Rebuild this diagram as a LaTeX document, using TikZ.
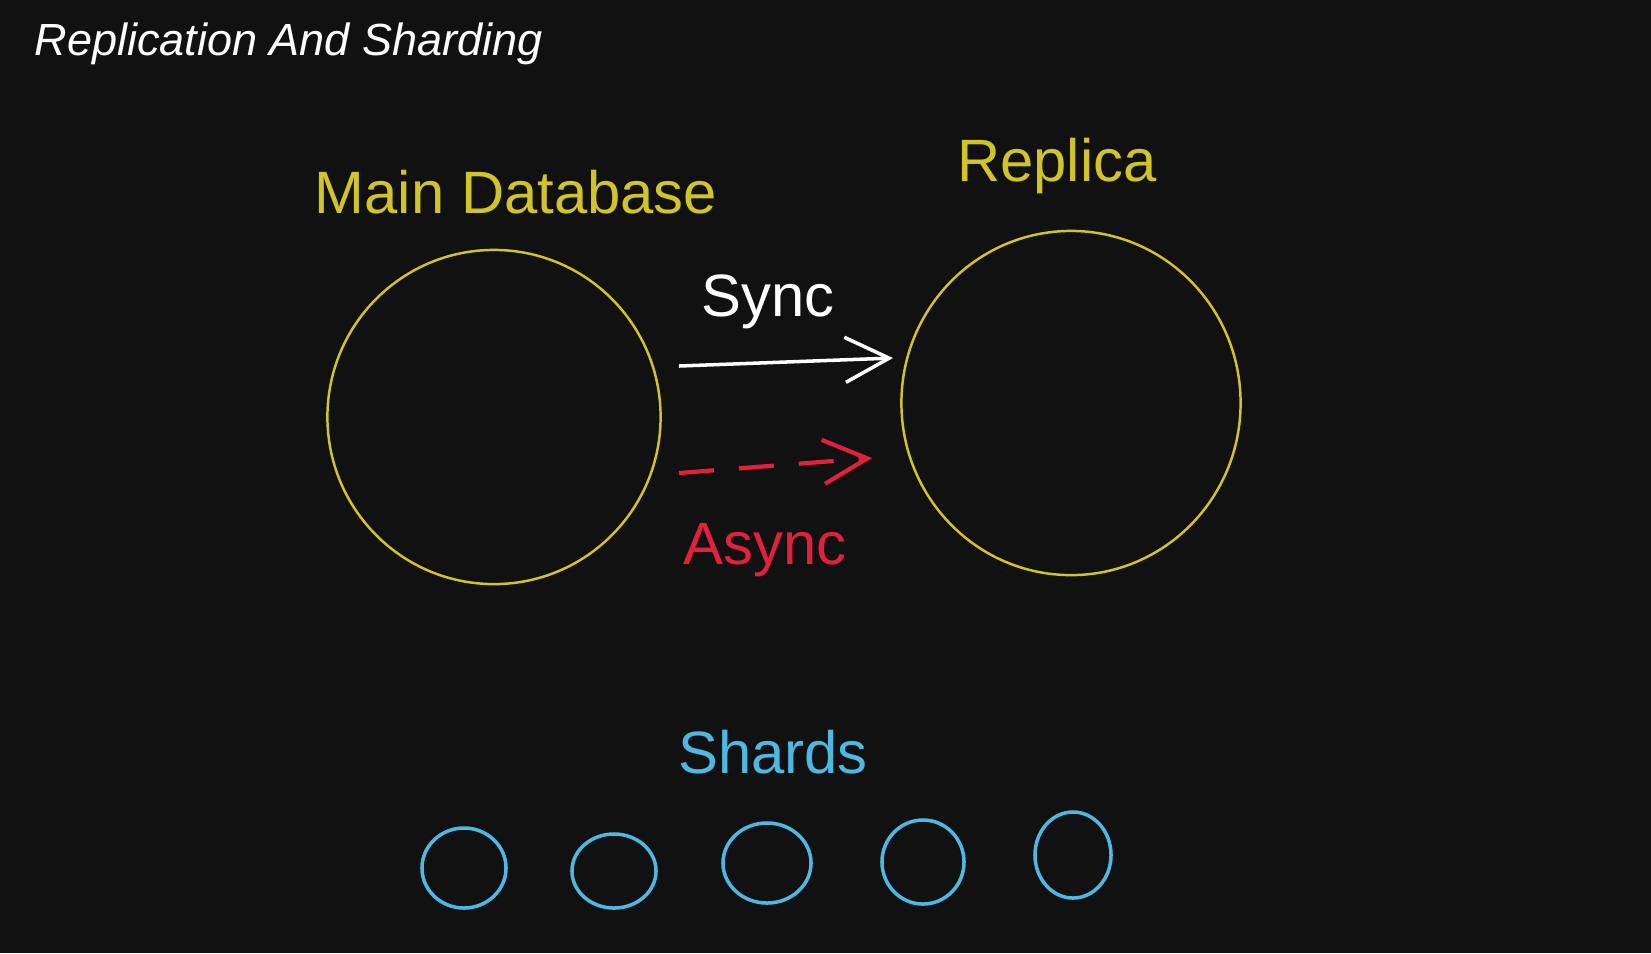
\documentclass[tikz,border=0pt]{standalone}
\usepackage{fontspec}
\setmainfont{Liberation Sans}
\definecolor{bgdark}{RGB}{17,17,17}
\definecolor{hyellow}{RGB}{208,196,42}
\definecolor{hblue}{RGB}{78,184,226}
\definecolor{hred}{RGB}{226,32,62}
\usetikzlibrary{arrows.meta,positioning,shapes.geometric}

\begin{document}
\begin{tikzpicture}[
  x=0.01cm, y=-0.01cm,
  every node/.style={inner sep=0pt},
  hand/.style={font=\fontsize{17}{20}\selectfont},
  bigdb/.style={ellipse,draw=hyellow,line width=0.7pt,
                minimum width=3.33cm,minimum height=3.34cm},
  shard/.style={ellipse,draw=hblue,line width=1pt,
                minimum width=0.84cm,minimum height=0.78cm},
  syncarr/.style={-{Straight Barb[length=4.4mm,width=4.5mm]},
                  white,line width=1pt},
  asyncarr/.style={-{Straight Barb[length=4.4mm,width=4.4mm]},
                   hred,line width=1.2pt,dash pattern=on 0.35cm off 0.25cm},
]
  \fill[bgdark] (0,0) rectangle (1651,953);
  \useasboundingbox (0,0) rectangle (1651,953);

  % Title
  \node[anchor=west,text=white,font=\fontsize{12.8}{15}\selectfont\itshape]
    (title) at (34,44) {Replication And Sharding};

  % Databases
  \node[bigdb] (main) at (494,417) {};
  \node[bigdb,minimum width=3.39cm,minimum height=3.44cm] (replica) at (1071,403) {};
  \node[hand,text=hyellow] (mainlbl) at (516,192) {Main Database};
  \node[hand,text=hyellow] (replbl) at (1057,166) {Replica};

  % Arrows
  \coordinate (syncA) at (679,366);
  \coordinate (syncB) at (893,358);
  \coordinate (asyncA) at (679,473);
  \coordinate (asyncB) at (872,458);
  \draw[syncarr] (syncA) -- (syncB);
  \draw[asyncarr] (asyncA) -- (asyncB);
  \node[hand,text=white] (synclbl) at (768,302) {Sync};
  \node[hand,text=hred] (asynclbl) at (765,550) {Async};

  % Shards
  \node[hand,text=hblue] (shardlbl) at (773,752) {Shards};
  \node[shard,minimum height=0.80cm] (s1) at (464,868) {};
  \node[shard,minimum height=0.74cm] (s2) at (614,871) {};
  \node[shard,minimum width=0.88cm,minimum height=0.80cm] (s3) at (767,863) {};
  \node[shard,minimum width=0.82cm,minimum height=0.84cm] (s4) at (923,862) {};
  \node[shard,minimum width=0.76cm,minimum height=0.86cm] (s5) at (1073,855) {};
\end{tikzpicture}
\end{document}
